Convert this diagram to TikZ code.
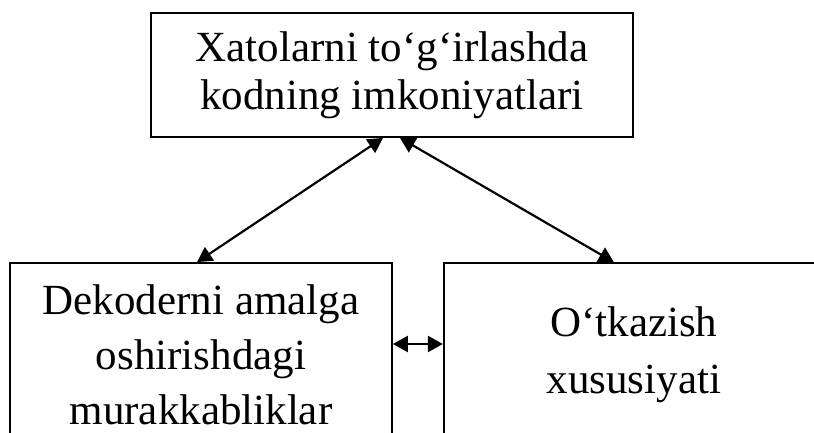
\documentclass[tikz,border=0pt]{standalone}
\usepackage{fontspec}
\setmainfont{Liberation Serif}
\usetikzlibrary{arrows.meta, positioning, calc}

\begin{document}
\begin{tikzpicture}[
    x=1pt, y=1pt,
    node distance=50pt,
    box/.style={rectangle, draw=black, line width=1.8pt, align=center, inner sep=0pt},
    arrow/.style={{Triangle[length=15pt,width=16pt]}-{Triangle[length=15pt,width=16pt]}, line width=2.2pt}
]
\useasboundingbox (0,0) rectangle (814,432);

% Tugunlar
\node[box, minimum width=482pt, minimum height=124pt, font=\fontsize{43}{48}\selectfont] (kod) at (392,357) {Xatolarni to‘g‘irlashda\\kodning imkoniyatlari};
\node[box, minimum width=382pt, minimum height=184pt, font=\fontsize{43}{55}\selectfont] (dekoder) at (201,77) {Dekoderni amalga\\oshirishdagi\\murakkabliklar};
\node[box, minimum width=380pt, minimum height=184pt, font=\fontsize{43}{57}\selectfont, right=of dekoder] (otkazish) {O‘tkazish\\xususiyati};

% Strelkalar
\draw[arrow] ([xshift=-9pt]kod.south) -- ([xshift=-4pt]dekoder.north);
\draw[arrow] ([xshift=8pt]kod.south) -- ([xshift=-20pt]otkazish.north);
\draw[arrow] ([yshift=11pt]dekoder.east) -- ([yshift=11pt]otkazish.west);

\end{tikzpicture}
\end{document}
